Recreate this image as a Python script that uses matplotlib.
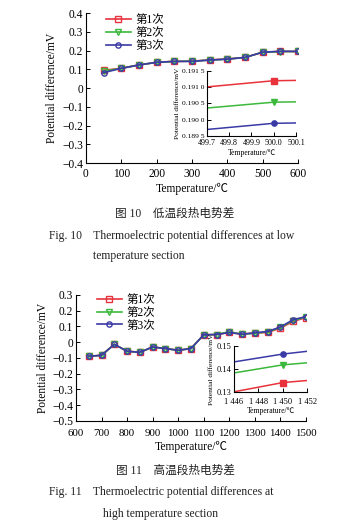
import matplotlib
matplotlib.use("Agg")
import matplotlib.pyplot as plt

SERIF = ['Liberation Serif', 'Noto Sans CJK SC']
plt.rcParams['font.family'] = SERIF
plt.rcParams['axes.linewidth'] = 0.8

series_names = ['第1次', '第2次', '第3次']
colors = ['#e8323c', '#3cb93c', '#3a3aa6']
markers = ['s', 'v', 'o']

# Fig 10: low temperature section
low_T = [50, 100, 150, 200, 250, 300, 350, 400, 450, 500, 550, 600]
low_run1 = [0.095, 0.105, 0.123, 0.137, 0.142, 0.143, 0.150, 0.155, 0.163, 0.191, 0.195, 0.195]
low_run2 = [0.090, 0.105, 0.123, 0.137, 0.142, 0.143, 0.149, 0.154, 0.163, 0.191, 0.194, 0.195]
low_run3 = [0.082, 0.105, 0.123, 0.137, 0.142, 0.142, 0.149, 0.154, 0.163, 0.191, 0.196, 0.195]
low_inset_T = [499.7, 500.0, 500.1]
low_inset_run1 = [0.19101, 0.19120, 0.19121]
low_inset_run2 = [0.19036, 0.19054, 0.19055]
low_inset_run3 = [0.18970, 0.18989, 0.18990]

# Fig 11: high temperature section
high_T = [650, 700, 750, 800, 850, 900, 950, 1000, 1050, 1100, 1150, 1200, 1250, 1300, 1350, 1400, 1450, 1500]
high_run1 = [-0.089, -0.083, -0.013, -0.057, -0.064, -0.030, -0.040, -0.051, -0.040, 0.047, 0.049, 0.062, 0.051, 0.059, 0.062, 0.090, 0.132, 0.157]
high_run2 = [-0.089, -0.083, -0.013, -0.057, -0.064, -0.030, -0.040, -0.051, -0.040, 0.047, 0.049, 0.067, 0.051, 0.057, 0.066, 0.094, 0.138, 0.160]
high_run3 = [-0.089, -0.083, -0.013, -0.057, -0.064, -0.030, -0.040, -0.051, -0.040, 0.047, 0.049, 0.062, 0.051, 0.060, 0.068, 0.097, 0.143, 0.163]
high_inset_T = [1446, 1450, 1452]
high_inset_run1 = [0.1301, 0.1341, 0.1350]
high_inset_run2 = [0.1383, 0.1418, 0.1427]
high_inset_run3 = [0.1431, 0.1465, 0.1477]

fig = plt.figure(figsize=(3.5, 5.25), dpi=100)

MAIN_FS = 8.3
INSET_FS = 5.8

def style_axes(ax, fs):
    ax.spines['top'].set_visible(False)
    ax.spines['right'].set_visible(False)
    ax.tick_params(direction='in', length=3, width=0.7, labelsize=fs, pad=2)

def main_plot(ax, T, runs):
    for r, c, m, n in zip(runs, colors, markers, series_names):
        ax.plot(T, r, color=c, marker=m, markersize=3.8, markerfacecolor='none',
                markeredgewidth=1.0, linewidth=1.2, label=n)

def inset_plot(ax, T, runs):
    for r, c, m in zip(runs, colors, markers):
        ax.plot(T, r, color=c, marker=m, markersize=3.8,
                markevery=[1], linewidth=1.1)

# ---- Chart 1
ax1 = fig.add_axes([0.2457, 0.6895, 0.6057, 0.2857])
main_plot(ax1, low_T, [low_run1, low_run2, low_run3])
ax1.set_xlim(0, 600)
ax1.set_ylim(-0.4, 0.4)
ax1.set_xticks(range(0, 601, 100))
yt = [-0.4, -0.3, -0.2, -0.1, 0, 0.1, 0.2, 0.3, 0.4]
ax1.set_yticks(yt)
ax1.set_yticklabels(['\u22120.4', '\u22120.3', '\u22120.2', '\u22120.1', '0', '0.1', '0.2', '0.3', '0.4'])
style_axes(ax1, MAIN_FS)
ax1.tick_params(axis='x', pad=3.5)
ax1.set_xlabel('Temperature/℃', fontsize=MAIN_FS, labelpad=2)
ax1.set_ylabel('Potential difference/mV', fontsize=MAIN_FS, labelpad=3)
ax1.legend(loc='upper left', bbox_to_anchor=(0.06, 1.04), frameon=False, fontsize=MAIN_FS,
           handlelength=2.2, labelspacing=0.1, handletextpad=0.4, borderaxespad=0.2)

in1 = fig.add_axes([0.5914, 0.7410, 0.2543, 0.1238])
inset_plot(in1, low_inset_T, [low_inset_run1, low_inset_run2, low_inset_run3])
in1.set_xlim(499.7, 500.1)
in1.set_ylim(0.1895, 0.1915)
in1.set_xticks([499.7, 499.8, 499.9, 500.0, 500.1])
in1.set_xticklabels(['499.7', '499.8', '499.9', '500.0', '500.1'])
in1.set_yticks([0.1895, 0.1900, 0.1905, 0.1910, 0.1915])
in1.set_yticklabels(['0.189 5', '0.190 0', '0.190 5', '0.191 0', '0.191 5'])
style_axes(in1, INSET_FS)
in1.tick_params(axis='y', labelsize=5.4)
in1.tick_params(axis='x', pad=2.5)
in1.patch.set_alpha(0)
in1.set_xlabel('Temperature/℃', fontsize=5.5, labelpad=1)
in1.set_ylabel('Potential difference/mV', fontsize=5.3, labelpad=1)

# ---- Chart 2
ax2 = fig.add_axes([0.2171, 0.1981, 0.657, 0.24])
main_plot(ax2, high_T, [high_run1, high_run2, high_run3])
ax2.set_xlim(600, 1500)
ax2.set_ylim(-0.5, 0.3)
ax2.set_xticks(range(600, 1501, 100))
yt2 = [-0.5, -0.4, -0.3, -0.2, -0.1, 0, 0.1, 0.2, 0.3]
ax2.set_yticks(yt2)
ax2.set_yticklabels(['\u22120.5', '\u22120.4', '\u22120.3', '\u22120.2', '\u22120.1', '0', '0.1', '0.2', '0.3'])
style_axes(ax2, MAIN_FS)
ax2.tick_params(axis='x', labelsize=7.8, pad=6)
ax2.set_xlabel('Temperature/℃', fontsize=MAIN_FS, labelpad=2)
ax2.set_ylabel('Potential difference/mV', fontsize=MAIN_FS, labelpad=2)
ax2.legend(loc='upper left', bbox_to_anchor=(0.06, 1.06), frameon=False, fontsize=MAIN_FS,
           handlelength=2.2, labelspacing=0.05, handletextpad=0.4, borderaxespad=0.2)

in2 = fig.add_axes([0.6686, 0.2533, 0.2086, 0.0876])
inset_plot(in2, high_inset_T, [high_inset_run1, high_inset_run2, high_inset_run3])
in2.set_xlim(1446, 1452)
in2.set_ylim(0.13, 0.15)
in2.set_xticks([1446, 1448, 1450, 1452])
in2.set_xticklabels(['1 446', '1 448', '1 450', '1 452'])
in2.set_yticks([0.13, 0.14, 0.15])
in2.set_yticklabels(['0.13', '0.14', '0.15'])
style_axes(in2, 6)
in2.tick_params(axis='x', pad=4)
in2.patch.set_alpha(0)
in2.set_xlabel('Temperature/℃', fontsize=5.5, labelpad=1)
in2.set_ylabel('Potential difference/mV', fontsize=5.3, labelpad=2)

# ---- Captions
cap = dict(fontsize=8.4, color='#222222', family=SERIF)
fig.text(0.5, 1 - 214/525, '图 10　低温段热电势差', ha='center', va='center', **cap)
fig.text(49/350, 1 - 236/525, 'Fig. 10    Thermoelectric potential differences at low', ha='left', va='center', **cap)
fig.text(93/350, 1 - 256/525, 'temperature section', ha='left', va='center', **cap)
fig.text(0.5, 1 - 471/525, '图 11　高温段热电势差', ha='center', va='center', **cap)
fig.text(49/350, 1 - 492/525, 'Fig. 11    Thermoelectric potential differences at', ha='left', va='center', **cap)
fig.text(103/350, 1 - 514/525, 'high temperature section', ha='left', va='center', **cap)

fig.savefig('out.png', dpi=100)
